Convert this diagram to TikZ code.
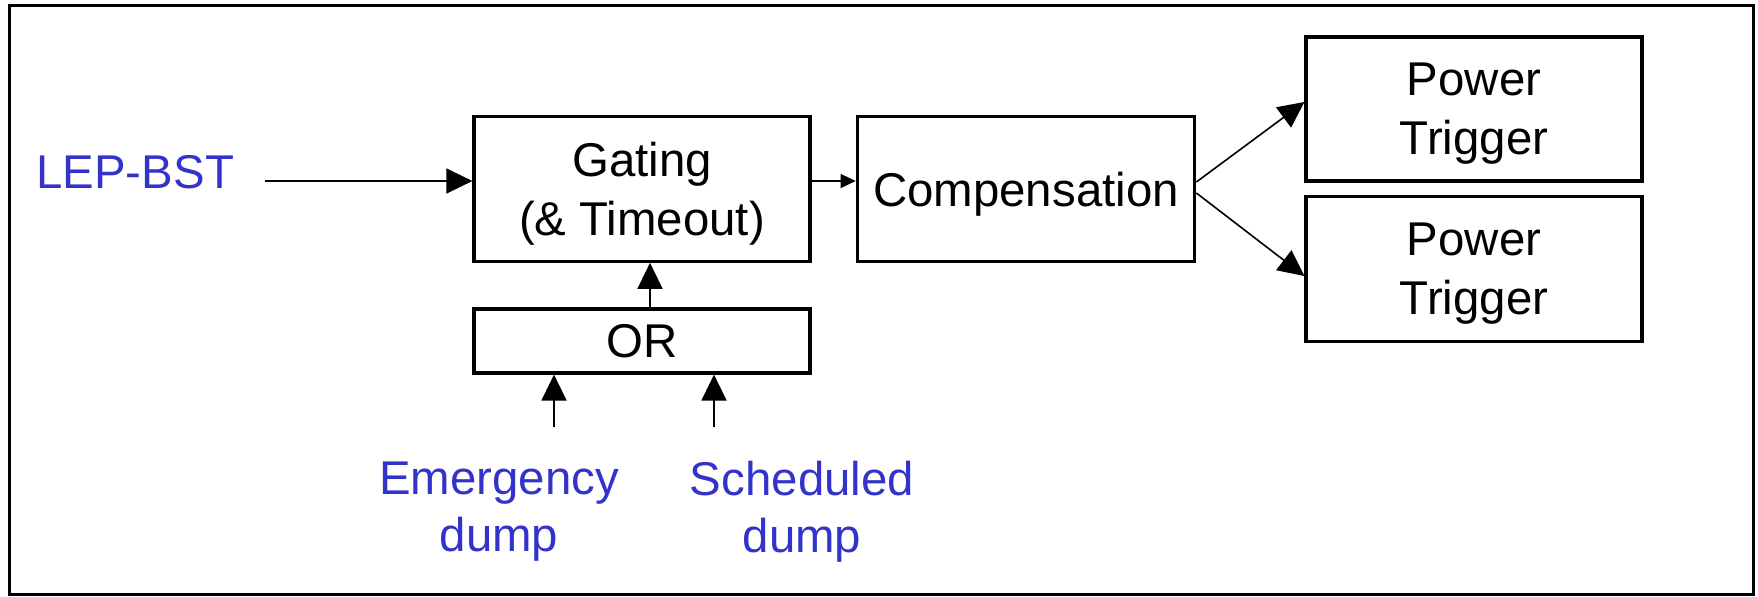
\documentclass[tikz,border=0pt]{standalone}
\usepackage{fontspec}
\setmainfont{Liberation Sans}
\usetikzlibrary{arrows.meta}
\definecolor{labelblue}{RGB}{51,51,204}
\tikzset{
  blockbox/.style={draw, line width=1.6pt, inner sep=0pt, align=center,
    text depth=0pt, font=\fontsize{23.7}{29.5}\selectfont},
  inlabel/.style={text=labelblue, inner sep=0pt, align=center,
    font=\fontsize{23.7}{28.5}\selectfont},
  arr/.style={line width=0.8pt, -{Triangle[length=13pt,width=12.5pt]}},
  arrsmall/.style={line width=0.8pt, -{Triangle[length=7.5pt,width=7pt]}}
}
\begin{document}
\begin{tikzpicture}[x=0.5pt,y=-0.5pt]
  \useasboundingbox (0,0) rectangle (1758,596);
  % outer frame
  \draw[line width=1.5pt] (9,5) rectangle (1753,594);

  % blocks
  \node[blockbox, minimum width=168pt, minimum height=72.25pt] (gating) at (642,189) {Gating\\(\& Timeout)};
  \node[blockbox, minimum width=168pt, minimum height=32pt] (or) at (642,341) {OR};
  \node[blockbox, minimum width=168.75pt, minimum height=72.25pt] (comp) at (1026,189) {Compensation};
  \node[blockbox, minimum width=168pt, minimum height=72pt] (pt1) at (1474,109) {Power\\Trigger};
  \node[blockbox, minimum width=168pt, minimum height=72.25pt] (pt2) at (1474,269) {Power\\Trigger};

  % input labels
  \node[inlabel, anchor=base west] (lep) at (36,188) {LEP-BST};
  \node[inlabel, anchor=north] (emerg) at (499,461) {Emergency\\dump};
  \node[inlabel, anchor=north] (sched) at (802,461) {Scheduled\\dump};

  % connectors
  \draw[arr] ([xshift=15.5pt,yshift=3.5pt]lep.base east) coordinate (lepout) -- (lepout -| gating.west);
  \draw[arrsmall] ([yshift=4pt]gating.east) -- ([yshift=4pt]comp.west);
  \draw[arr] ([xshift=4pt]or.north) -- ([xshift=4pt]gating.south);

  \coordinate (emin) at (554,426.5);
  \coordinate (scin) at (714,426.5);
  \draw[arr] (emin) -- (emin |- or.south);
  \draw[arr] (scin) -- (scin |- or.south);

  \draw[arr] ([yshift=3.5pt]comp.east) -- ([yshift=3.5pt]pt1.west);
  \draw[arr] ([yshift=-2pt]comp.east) -- ([yshift=-3.5pt]pt2.west);
\end{tikzpicture}
\end{document}
